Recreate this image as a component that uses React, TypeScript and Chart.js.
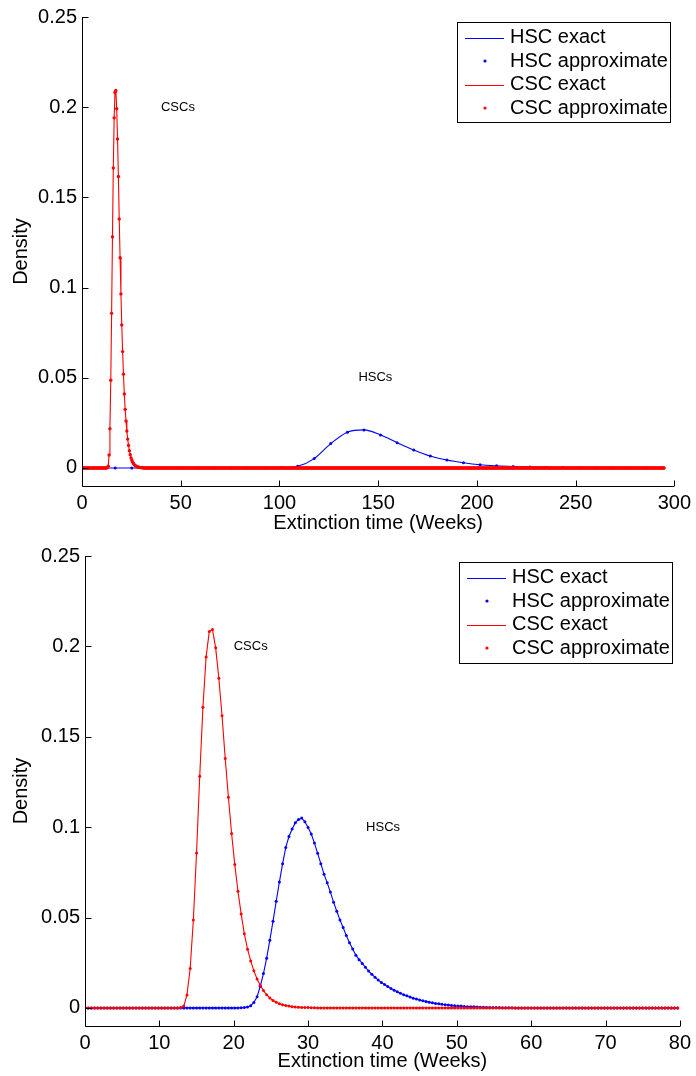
import React, { useEffect, useRef } from 'react';
import { Chart, registerables } from 'chart.js';

Chart.register(...registerables);

// ---- sampling grids (weeks) ----
const GRID_STEP_WEEKS = 3 / 7; // densities were sampled every 3 days
const TOP_SAMPLE_COUNT = 689; // 0 .. ~295 weeks
const BOTTOM_SAMPLE_COUNT = 187; // 0 .. ~80 weeks
const TOP_HSC_STEP_WEEKS = 8.4; // coarse sampling of the HSC curve in the upper panel

// ---- CSC extinction-time density (both panels), values from grid index CSC_START on; zero elsewhere ----
const CSC_START = 29;
const cscDensity = [
  0, 0.0002, 0.001, 0.0072, 0.0218, 0.0486, 0.0857, 0.1282, 0.1663, 0.1941,
  0.2083, 0.2093, 0.1992, 0.1824, 0.1616, 0.138, 0.1165, 0.0965, 0.0793, 0.0645,
  0.052, 0.041, 0.0325, 0.026, 0.0205, 0.016, 0.0125, 0.0096, 0.0073, 0.0055,
  0.0041, 0.0031, 0.0023, 0.0017, 0.0013, 0.001, 0.0007, 0.0005, 0.0004, 0.0003,
  0.0002, 0.0002, 0.0001, 0.0001, 0,
];

// ---- HSC extinction-time density, lower panel, values from grid index HSC_START on ----
const HSC_START = 48;
const hscDensityLower = [
  0, 0.0001, 0.0002, 0.0005, 0.0012, 0.003, 0.0062, 0.012, 0.019, 0.0275,
  0.0375, 0.048, 0.059, 0.0697, 0.0797, 0.0888, 0.0948, 0.099, 0.1025, 0.1043,
  0.105, 0.103, 0.0998, 0.0962, 0.0912, 0.0855, 0.0798, 0.074, 0.0692, 0.0641,
  0.0585, 0.0535, 0.0487, 0.0445, 0.04, 0.0361, 0.0326, 0.0292, 0.0267, 0.0246,
  0.0225, 0.0204, 0.0186, 0.017, 0.0154, 0.0141, 0.013, 0.0119, 0.0108, 0.0098,
  0.0089, 0.0081, 0.0073, 0.0067, 0.006, 0.0054, 0.0049, 0.0044, 0.004, 0.0035,
  0.0032, 0.0028, 0.0025, 0.0023, 0.002, 0.0018, 0.0016, 0.0014, 0.0012, 0.0011,
  0.001, 0.0008, 0.0007, 0.0006, 0.0006, 0.0005, 0.0004, 0.0004, 0.0003, 0.0003,
  0.0002, 0.0002, 0.0002, 0.0001, 0.0001, 0.0001, 0.0001, 0,
];

// ---- HSC extinction-time density, upper panel, one value every TOP_HSC_STEP_WEEKS ----
const hscDensityUpper = [
  0, 0, 0, 0, 0, 0, 0, 0, 0, 0,
  0, 0, 0.0001, 0.0009, 0.0052, 0.0135, 0.0198, 0.0211, 0.0183, 0.014,
  0.01, 0.0066, 0.0044, 0.0029, 0.0018, 0.0012, 0.0008, 0.0005, 0.0003, 0.0002,
  0.0001, 0, 0, 0, 0, 0,
];

// ---- axes ----
const topXTicks = [0, 50, 100, 150, 200, 250, 300];
const bottomXTicks = [0, 10, 20, 30, 40, 50, 60, 70, 80];
const yTicks = [0, 0.05, 0.1, 0.15, 0.2, 0.25];
const Y_MIN = -0.01;
const Y_MAX = 0.25;

const legendLabels = ['HSC exact', 'HSC approximate', 'CSC exact', 'CSC approximate'];

const BLUE = '#0000ff';
const RED = '#ff0000';
const FONT_FAMILY = '"Liberation Sans", Arial, Helvetica, sans-serif';

type Pt = { x: number; y: number };

function densityAt(values: number[], start: number, k: number): number {
  const i = k - start;
  return i >= 0 && i < values.length ? values[i] : 0;
}

function gridSeries(values: number[], start: number, count: number): Pt[] {
  const out: Pt[] = [];
  for (let k = 0; k < count; k++) out.push({ x: k * GRID_STEP_WEEKS, y: densityAt(values, start, k) });
  return out;
}

const overlayPlugin = {
  id: 'matlabOverlay',
  afterDraw(chart: any, _args: any, opts: any) {
    const { ctx, chartArea, scales } = chart;
    const xs = scales.x;
    const ys = scales.y;
    ctx.save();
    // spines
    ctx.strokeStyle = '#000';
    ctx.lineWidth = 1;
    const L = Math.round(chartArea.left) + 0.5;
    const B = Math.round(chartArea.bottom) + 0.5;
    ctx.beginPath();
    ctx.moveTo(L, Math.round(chartArea.top));
    ctx.lineTo(L, B);
    ctx.lineTo(Math.round(chartArea.right), B);
    // inward ticks
    xs.ticks.forEach((t: any) => {
      const px = Math.round(xs.getPixelForValue(t.value)) + 0.5;
      ctx.moveTo(px, B);
      ctx.lineTo(px, B - 6);
    });
    ys.ticks.forEach((t: any) => {
      const py = Math.round(ys.getPixelForValue(t.value)) + 0.5;
      ctx.moveTo(L, py);
      ctx.lineTo(L + 6, py);
    });
    ctx.stroke();

    // annotations
    ctx.fillStyle = '#000';
    ctx.font = `13px ${FONT_FAMILY}`;
    ctx.textAlign = 'left';
    ctx.textBaseline = 'middle';
    (opts.notes || []).forEach((n: any) => {
      ctx.fillText(n.text, xs.getPixelForValue(n.x), ys.getPixelForValue(n.y));
    });

    // legend
    const lb = opts.legendBox;
    if (lb) {
      ctx.fillStyle = '#fff';
      ctx.fillRect(lb.left, lb.top, lb.width, lb.height);
      ctx.strokeStyle = '#000';
      ctx.lineWidth = 1;
      ctx.strokeRect(lb.left + 0.5, lb.top + 0.5, lb.width, lb.height);
      ctx.font = `20px ${FONT_FAMILY}`;
      ctx.textBaseline = 'middle';
      opts.entries.forEach((e: any, i: number) => {
        const y = lb.top + 15.5 + i * 23.5;
        if (e.kind === 'line') {
          ctx.strokeStyle = e.color;
          ctx.lineWidth = 1.2;
          ctx.beginPath();
          ctx.moveTo(lb.left + 8, Math.round(y) + 0.5);
          ctx.lineTo(lb.left + 47, Math.round(y) + 0.5);
          ctx.stroke();
        } else {
          ctx.fillStyle = e.color;
          ctx.beginPath();
          ctx.arc(lb.left + 28, y, 1.6, 0, Math.PI * 2);
          ctx.fill();
        }
        ctx.fillStyle = '#000';
        ctx.fillText(e.label, lb.left + 53, y);
      });
    }
    ctx.restore();
  },
};

function makeConfig(
  hscPoints: Pt[],
  cscPoints: Pt[],
  xMax: number,
  xTicks: number[],
  xAxisHeight: number,
  topPad: number,
  rightPad: number,
  yAxisWidth: number,
  notes: any[],
  legendBox: any,
  hscSmooth: boolean,
  dotRadius: number
): any {
  const tickFont = { family: FONT_FAMILY, size: 20 };
  const entries = [
    { label: legendLabels[0], color: BLUE, kind: 'line' },
    { label: legendLabels[1], color: BLUE, kind: 'dot' },
    { label: legendLabels[2], color: RED, kind: 'line' },
    { label: legendLabels[3], color: RED, kind: 'dot' },
  ];
  return {
    type: 'scatter',
    data: {
      datasets: [
        {
          label: legendLabels[3],
          data: cscPoints,
          showLine: false,
          pointRadius: dotRadius,
          pointBorderWidth: 0,
          pointBackgroundColor: RED,
          pointHoverRadius: 0,
        },
        {
          label: legendLabels[2],
          data: cscPoints,
          showLine: true,
          borderColor: RED,
          borderWidth: 1.1,
          pointRadius: 0,
          pointHoverRadius: 0,
          tension: 0,
        },
        {
          label: legendLabels[1],
          data: hscPoints,
          showLine: false,
          pointRadius: 1.5,
          pointBorderWidth: 0,
          pointBackgroundColor: BLUE,
          pointHoverRadius: 0,
        },
        {
          label: legendLabels[0],
          data: hscPoints,
          showLine: true,
          borderColor: BLUE,
          borderWidth: 1.1,
          pointRadius: 0,
          pointHoverRadius: 0,
          cubicInterpolationMode: hscSmooth ? 'monotone' : 'default',
          tension: hscSmooth ? 0.4 : 0,
        },
      ],
    },
    options: {
      responsive: false,
      animation: false,
      events: [],
      layout: { padding: { top: topPad, right: rightPad, left: 0, bottom: 0 } },
      plugins: {
        legend: { display: false },
        tooltip: { enabled: false },
        matlabOverlay: { notes, legendBox, entries },
      },
      scales: {
        x: {
          type: 'linear',
          min: 0,
          max: xMax,
          afterBuildTicks: (s: any) => {
            s.ticks = xTicks.map((v) => ({ value: v }));
          },
          afterFit: (s: any) => {
            s.height = xAxisHeight;
          },
          grid: { display: false, drawTicks: false },
          border: { display: false },
          ticks: {
            font: tickFont,
            color: '#000',
            padding: 5,
            maxRotation: 0,
            autoSkip: false,
            callback: (v: any) => String(v),
          },
          title: {
            display: true,
            text: 'Extinction time (Weeks)',
            color: '#000',
            font: { family: FONT_FAMILY, size: 20, lineHeight: 1.2 },
            padding: { top: 0, bottom: 3 },
          },
        },
        y: {
          type: 'linear',
          min: Y_MIN,
          max: Y_MAX,
          afterBuildTicks: (s: any) => {
            s.ticks = yTicks.map((v) => ({ value: v }));
          },
          afterFit: (s: any) => {
            s.width = yAxisWidth;
          },
          grid: { display: false, drawTicks: false },
          border: { display: false },
          ticks: {
            font: tickFont,
            color: '#000',
            padding: 5,
            autoSkip: false,
            callback: (v: any) => String(v),
          },
          title: {
            display: true,
            text: 'Density',
            color: '#000',
            font: { family: FONT_FAMILY, size: 20, lineHeight: 1.2 },
            padding: { top: 9, bottom: 0 },
          },
        },
      },
    },
    plugins: [overlayPlugin],
  };
}

export default function App() {
  const topRef = useRef<HTMLCanvasElement | null>(null);
  const bottomRef = useRef<HTMLCanvasElement | null>(null);

  useEffect(() => {
    const topCsc = gridSeries(cscDensity, CSC_START, TOP_SAMPLE_COUNT);
    const topHsc: Pt[] = hscDensityUpper.map((v, k) => ({ x: k * TOP_HSC_STEP_WEEKS, y: v }));
    const bottomCsc = gridSeries(cscDensity, CSC_START, BOTTOM_SAMPLE_COUNT);
    const bottomHsc = gridSeries(hscDensityLower, HSC_START, BOTTOM_SAMPLE_COUNT);

    const topChart = new Chart(
      topRef.current as HTMLCanvasElement,
      makeConfig(
        topHsc,
        topCsc,
        300,
        topXTicks,
        52,
        16,
        20,
        82,
        [
          { text: 'CSCs', x: 40, y: 0.2 },
          { text: 'HSCs', x: 140, y: 0.05 },
        ],
        { left: 457, top: 22, width: 213, height: 100 },
        true,
        1.7
      )
    );
    const bottomChart = new Chart(
      bottomRef.current as HTMLCanvasElement,
      makeConfig(
        bottomHsc,
        bottomCsc,
        80,
        bottomXTicks,
        50,
        18,
        13,
        85,
        [
          { text: 'CSCs', x: 20, y: 0.2 },
          { text: 'HSCs', x: 37.8, y: 0.1 },
        ],
        { left: 459, top: 24, width: 213, height: 101 },
        false,
        1.5
      )
    );
    return () => {
      topChart.destroy();
      bottomChart.destroy();
    };
  }, []);

  return (
    <div style={{ position: 'absolute', left: 0, top: 0, width: 696, height: 1076, background: '#fff' }}>
      <canvas ref={topRef} width={696} height={538} style={{ display: 'block', width: 696, height: 538 }} />
      <canvas ref={bottomRef} width={696} height={538} style={{ display: 'block', width: 696, height: 538 }} />
    </div>
  );
}
